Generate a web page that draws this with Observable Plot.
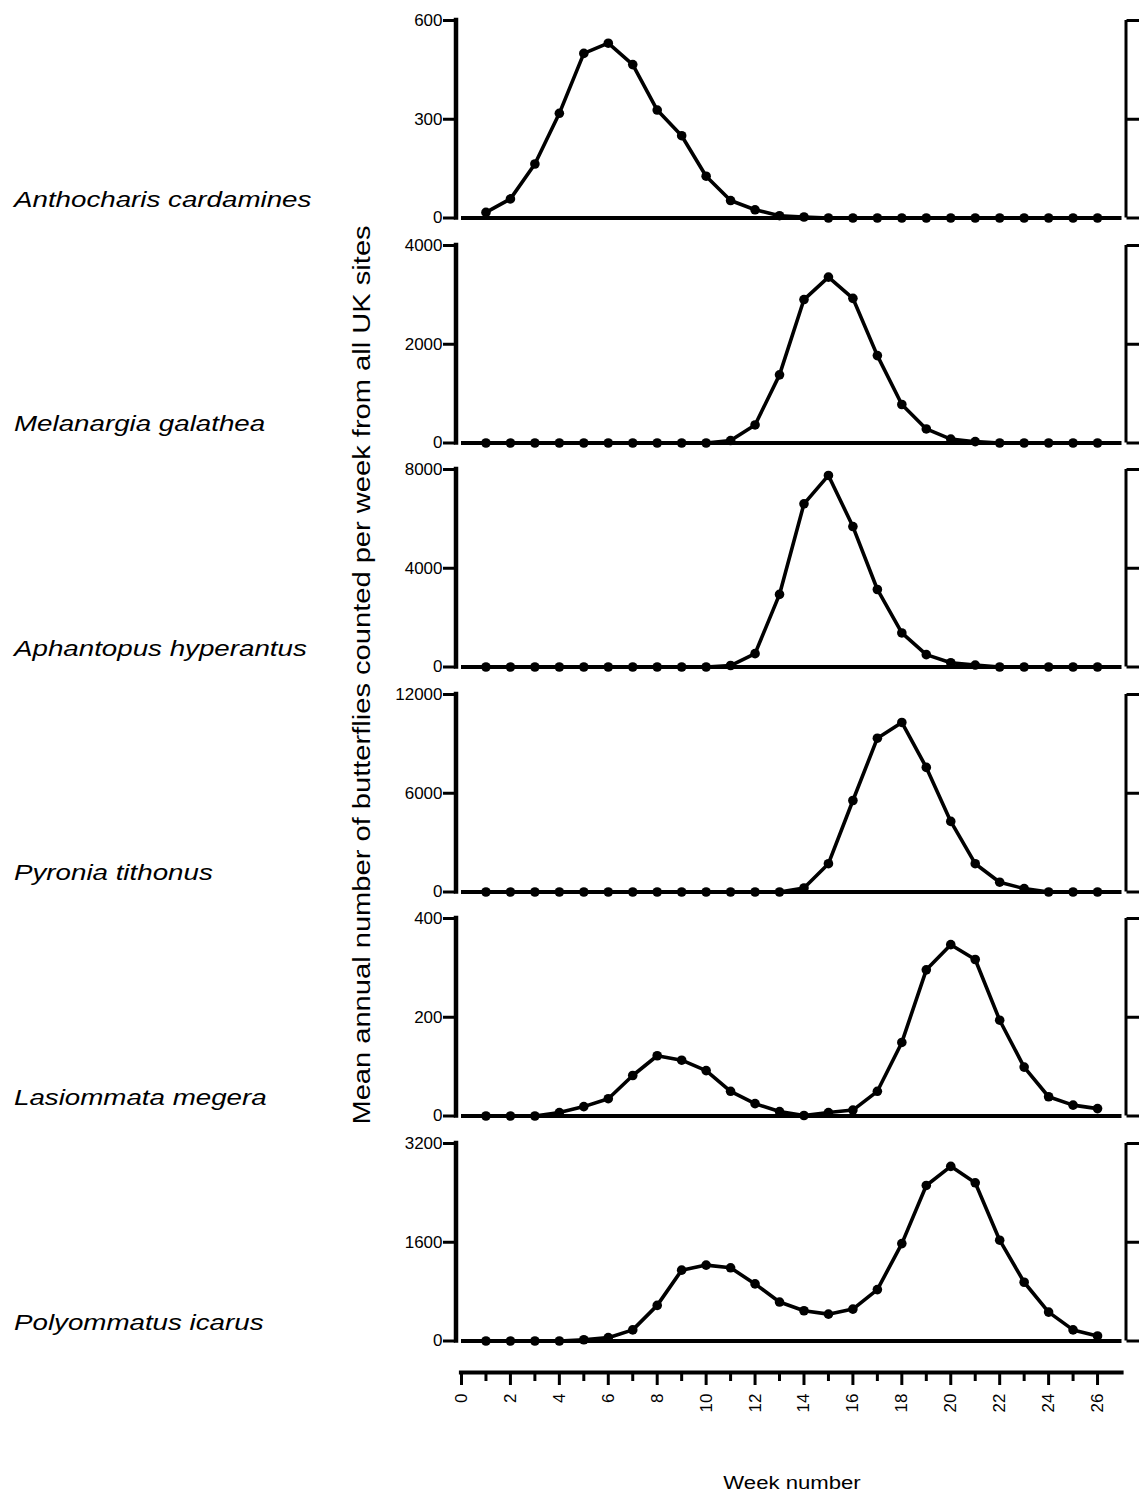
<!DOCTYPE html>
<html>
<head>
<meta charset="utf-8">
<script src="https://cdn.jsdelivr.net/npm/d3@7"></script>
<script src="https://cdn.jsdelivr.net/npm/@observablehq/plot@0.6"></script>
<style>
  html, body { margin: 0; padding: 0; background: #fff; }
  #chart { position: relative; width: 1139px; height: 1495px; background: #fff; overflow: hidden; }
  #chart svg.panel { position: absolute; left: 0; overflow: visible; background: none; }
  #labels { position: absolute; left: 0; top: 0; pointer-events: none; }
</style>
</head>
<body>
<div id="chart"></div>
<script>
// Weekly butterfly counts (mean annual number per week, all UK sites)
const weeks = [1, 2, 3, 4, 5, 6, 7, 8, 9, 10, 11, 12, 13, 14, 15, 16, 17, 18, 19, 20, 21, 22, 23, 24, 25, 26];
const weekTicks = [0, 1, 2, 3, 4, 5, 6, 7, 8, 9, 10, 11, 12, 13, 14, 15, 16, 17, 18, 19, 20, 21, 22, 23, 24, 25, 26];
const weekDomain = [0, 27];

const species = [
  "Anthocharis cardamines",
  "Melanargia galathea",
  "Aphantopus hyperantus",
  "Pyronia tithonus",
  "Lasiommata megera",
  "Polyommatus icarus"
];

const yTicks = [
  [0, 300, 600],
  [0, 2000, 4000],
  [0, 4000, 8000],
  [0, 6000, 12000],
  [0, 200, 400],
  [0, 1600, 3200]
];

const anthocharis = [17, 58, 164, 318, 500, 531, 466, 328, 250, 127, 53, 25, 7, 3, 0, 0, 0, 0, 0, 0, 0, 0, 0, 0, 0, 0];
const melanargia  = [0, 0, 0, 0, 0, 0, 0, 0, 0, 0, 50, 365, 1380, 2905, 3360, 2930, 1770, 780, 285, 80, 27, 0, 0, 0, 0, 0];
const aphantopus  = [0, 0, 0, 0, 0, 0, 0, 0, 0, 0, 60, 540, 2940, 6610, 7760, 5690, 3140, 1380, 500, 175, 80, 0, 0, 0, 0, 0];
const pyronia     = [0, 0, 0, 0, 0, 0, 0, 0, 0, 0, 0, 0, 0, 245, 1720, 5560, 9345, 10300, 7570, 4290, 1720, 595, 205, 0, 0, 0];
const lasiommata  = [0, 0, 0, 7, 19, 35, 82, 122, 113, 92, 50, 25, 9, 1, 7, 12, 50, 149, 296, 347, 317, 194, 99, 39, 22, 15];
const polyommatus = [0, 0, 0, 0, 20, 54, 180, 577, 1148, 1230, 1186, 925, 631, 490, 435, 517, 833, 1578, 2520, 2830, 2563, 1633, 952, 468, 180, 82];

const series = [anthocharis, melanargia, aphantopus, pyronia, lasiommata, polyommatus];

// Page layout (pixels)
const W = 1139, H = 1495;
const firstTop = 20, pitch = 224.6, panelH = 197.5, pad = 10;
const marginLeft = 461, marginRight = 17.5;
const font = "'Liberation Sans', Arial, Helvetica, sans-serif";

const chart = document.getElementById("chart");

series.forEach((values, i) => {
  const data = weeks.map((w, j) => ({week: w, count: values[j]}));
  const ticks = yTicks[i];
  const max = ticks[ticks.length - 1];
  const svg = Plot.plot({
    width: W,
    height: panelH + 2 * pad,
    marginLeft, marginRight,
    marginTop: pad, marginBottom: pad,
    style: {fontFamily: font, fontSize: "17px", color: "#000", background: "none", overflow: "visible"},
    x: {domain: weekDomain, axis: null},
    y: {domain: [0, max]},
    marks: [
      // left axis line, ticks and labels
      Plot.ruleX([weekDomain[0]], {y1: 0, y2: max, dx: -5.5, stroke: "#000", strokeWidth: 4.5, strokeLinecap: "square"}),
      Plot.axisY({ticks, tickSize: 12, dx: -6, tickPadding: 1, strokeWidth: 3, tickFormat: d => String(d), label: null}),
      // bracket at the right edge
      Plot.ruleX([weekDomain[1]], {y1: 0, y2: max, dx: 4, stroke: "#000", strokeWidth: 3}),
      Plot.axisY({anchor: "right", ticks, tickSize: 20, dx: 4, strokeWidth: 3, tickFormat: () => "", label: null}),
      // zero baseline
      Plot.ruleY([0], {x1: weekDomain[0], x2: weekDomain[1], stroke: "#000", strokeWidth: 4.2}),
      // weekly counts
      Plot.line(data, {x: "week", y: "count", stroke: "#000", strokeWidth: 3.6, strokeLinejoin: "round"}),
      Plot.dot(data, {x: "week", y: "count", r: 4.8, fill: "#000", stroke: "none"})
    ]
  });
  svg.classList.add("panel");
  svg.style.top = (firstTop + i * pitch - pad) + "px";
  chart.appendChild(svg);
});

// Shared week axis below the panels
const axisLineY = 1372;
const axisTop = 12;
const weekAxis = Plot.plot({
  width: W,
  height: 130,
  marginLeft, marginRight,
  marginTop: 2, marginBottom: 130 - axisTop,
  style: {fontFamily: font, fontSize: "17px", color: "#000", background: "none", overflow: "visible"},
  x: {domain: weekDomain},
  y: {domain: [0, 1], axis: null},
  marks: [
    Plot.ruleY([0], {x1: weekDomain[0], x2: weekDomain[1], stroke: "#000", strokeWidth: 4.2, strokeLinecap: "square"}),
    Plot.axisX({ticks: weekTicks.filter(d => d % 2 === 0), tickSize: 13, tickPadding: 8, tickRotate: -90, strokeWidth: 3, tickFormat: d => String(d), label: null}),
    Plot.axisX({ticks: weekTicks.filter(d => d % 2 === 1), tickSize: 9, strokeWidth: 3, tickFormat: () => "", label: null})
  ]
});
weekAxis.classList.add("panel");
weekAxis.style.top = (axisLineY - axisTop) + "px";
chart.appendChild(weekAxis);

// Text labels: species names, y title and x title
const labels = d3.select(chart).append("svg")
  .attr("id", "labels")
  .attr("width", W).attr("height", H)
  .style("font-family", font);

species.forEach((name, i) => {
  const zeroY = firstTop + i * pitch + panelH;
  labels.append("text")
    .attr("transform", `translate(14,${zeroY - 11}) scale(1.29,1)`)
    .attr("font-size", 21.5)
    .attr("font-style", "italic")
    .attr("fill", "#000")
    .text(name);
});

labels.append("text")
  .attr("transform", "translate(370,675) rotate(-90) scale(1.266,1)")
  .attr("text-anchor", "middle")
  .attr("font-size", 23)
  .attr("fill", "#000")
  .text("Mean annual number of butterflies counted per week from all UK sites");

labels.append("text")
  .attr("transform", "translate(792,1489) scale(1.23,1)")
  .attr("text-anchor", "middle")
  .attr("font-size", 18)
  .attr("fill", "#000")
  .text("Week number");
</script>
</body>
</html>
